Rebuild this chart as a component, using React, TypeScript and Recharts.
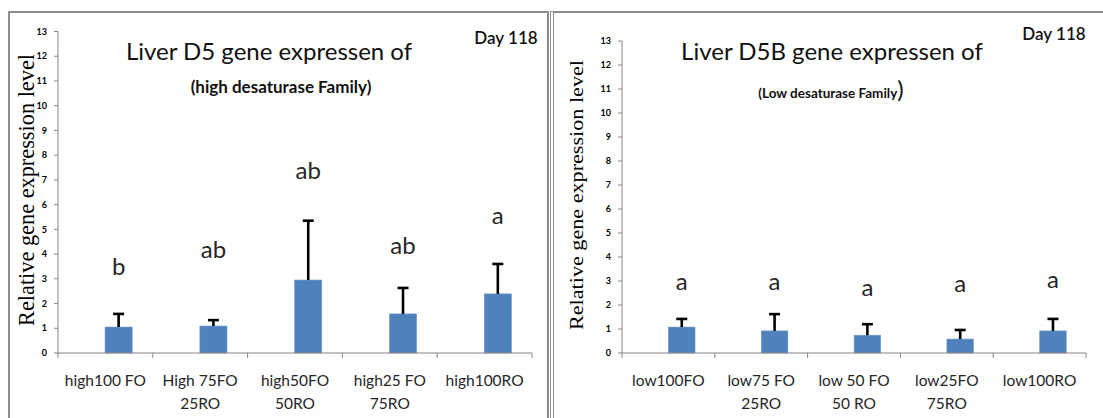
import React from "react";
import { ComposedChart, Bar, XAxis, YAxis } from "recharts";

// high desaturase family (left panel)
const highCategories = ["high100 FO", "High 75FO\n25RO", "high50FO\n50RO", "high25 FO\n75RO", "high100RO"];
const highMeans = [1.05, 1.09, 2.95, 1.58, 2.39];
const highErrors = [0.53, 0.24, 2.4, 1.05, 1.21];
const highLetters = ["b", "ab", "ab", "ab", "a"];
const highLetterY = [3.5, 4.2, 7.4, 4.37, 5.58];

// low desaturase family (right panel)
const lowCategories = ["low100FO", "low75 FO\n25RO", "low 50 FO\n50 RO", "low25FO\n75RO", "low100RO"];
const lowMeans = [1.08, 0.92, 0.74, 0.58, 0.92];
const lowErrors = [0.34, 0.7, 0.46, 0.38, 0.5];
const lowLetters = ["a", "a", "a", "a", "a"];
const lowLetterY = [3.0, 3.0, 2.75, 2.9, 3.08];

const yTicks = [0, 1, 2, 3, 4, 5, 6, 7, 8, 9, 10, 11, 12, 13];

const BAR_COLOR = "#4F81BD";
const AXIS_COLOR = "#868686";
const SANS = "Lato, 'Noto Sans', sans-serif";

function buildRows(cats: string[], means: number[], errs: number[], letters: string[], letterY: number[]) {
  return cats.map((name, i) => ({
    name,
    blank: null,
    mean: means[i],
    err: errs[i],
    letter: letters[i],
    letterY: letterY[i],
  }));
}

// bar + upper error bar + significance letter, using the bar's own pixel scale
function BarWithError(props: any) {
  const { x, y, width, height, payload } = props;
  if (!payload || !payload.mean) return null;
  const perUnit = height / payload.mean;
  const cx = x + width / 2;
  const top = y - payload.err * perUnit;
  const ly = y + height - payload.letterY * perUnit;
  return (
    <g>
      <rect x={x} y={y} width={width} height={height} fill={BAR_COLOR} stroke="#6a95c9" strokeWidth={0.6} />
      <line x1={cx} x2={cx} y1={y} y2={top} stroke="#000" strokeWidth={2.6} />
      <line x1={cx - 5.5} x2={cx + 5.5} y1={top} y2={top} stroke="#000" strokeWidth={2.6} />
      <text x={cx} y={ly} dy="0.36em" textAnchor="middle" fontFamily={SANS} fontSize={24} fill="#262626">
        {payload.letter}
      </text>
    </g>
  );
}

function XTick(props: any) {
  const { x, y, payload, index, band, count } = props;
  const lines = String(payload.value).split("\n");
  return (
    <g>
      <line x1={x - band / 2} x2={x - band / 2} y1={y} y2={y + 5} stroke={AXIS_COLOR} />
      {index === count - 1 && <line x1={x + band / 2} x2={x + band / 2} y1={y} y2={y + 5} stroke={AXIS_COLOR} />}
      <text x={x} y={y + 33} textAnchor="middle" fontFamily={SANS} fontSize={15.5} fill="#262626">
        {lines.map((l, i) => (
          <tspan key={i} x={x} dy={i === 0 ? 0 : 23}>
            {l}
          </tspan>
        ))}
      </text>
    </g>
  );
}

function YLabel(props: any) {
  const { lx, ly, size, len } = props;
  return (
    <text
      transform={`translate(${lx}, ${ly}) rotate(-90)`}
      textAnchor="middle"
      fontFamily="'Liberation Serif', 'DejaVu Serif', serif"
      fontSize={size}
      textLength={len}
      lengthAdjust="spacingAndGlyphs"
      fill="#000"
    >
      Relative gene expression level
    </text>
  );
}

function Panel(props: any) {
  const { rows, width, height, top, right, axisW, labelX, labelY, labelSize, labelLen } = props;
  const plotW = width - axisW - right;
  const band = plotW / rows.length;
  return (
    <ComposedChart
      width={width}
      height={height}
      data={rows}
      margin={{ top, right, bottom: 0, left: 0 }}
      barSize={band / 3.5}
      barGap={0}
    >
      <XAxis
        dataKey="name"
        height={height - 353}
        interval={0}
        tickLine={false}
        tickSize={0}
        tickMargin={0}
        axisLine={{ stroke: AXIS_COLOR }}
        tick={(p: any) => <XTick {...p} band={band} count={rows.length} />}
      />
      <YAxis
        width={axisW}
        domain={[0, 13]}
        ticks={yTicks}
        interval={0}
        tickSize={4}
        tickMargin={7}
        axisLine={{ stroke: AXIS_COLOR }}
        tickLine={{ stroke: AXIS_COLOR }}
        tick={{ fontFamily: SANS, fontSize: 9, fontWeight: 700, fill: "#000" }}
        label={<YLabel lx={labelX} ly={labelY} size={labelSize} len={labelLen} />}
      />
      <Bar dataKey="blank" fill="none" isAnimationActive={false} />
      <Bar dataKey="mean" fill={BAR_COLOR} shape={<BarWithError />} isAnimationActive={false} />
    </ComposedChart>
  );
}

const abs = (left: number, top: number, extra: any = {}) => ({
  position: "absolute" as const,
  left,
  top,
  whiteSpace: "nowrap" as const,
  transform: "translate(-50%, -50%)",
  color: "#111",
  fontFamily: SANS,
  ...extra,
});

export default function App() {
  const highRows = buildRows(highCategories, highMeans, highErrors, highLetters, highLetterY);
  const lowRows = buildRows(lowCategories, lowMeans, lowErrors, lowLetters, lowLetterY);
  return (
    <div style={{ position: "absolute", left: 0, top: 0, width: 1103, height: 418, background: "#fff", overflow: "hidden" }}>
      {/* panel frames */}
      <div style={{ position: "absolute", left: 8, top: 11, width: 537, height: 420, border: "2px solid #8c8c8c" }} />
      <div style={{ position: "absolute", left: 550, top: 11, width: 600, height: 420, borderLeft: "4px double #8c8c8c", borderTop: "2px solid #8c8c8c" }} />

      <div style={{ position: "absolute", left: 0, top: 0 }}>
        <Panel rows={highRows} width={548} height={418} top={31.5} right={16} axisW={58}
          labelX={34} labelY={190} labelSize={24} labelLen={272} />
      </div>
      <div style={{ position: "absolute", left: 551, top: 0 }}>
        <Panel rows={lowRows} width={552} height={418} top={41} right={17} axisW={71}
          labelX={32} labelY={195} labelSize={18} labelLen={270} />
      </div>

      {/* titles */}
      <div style={abs(269, 50, { fontSize: 24 })}>Liver D5 gene expressen of</div>
      <div style={abs(281, 86, { fontSize: 17, fontWeight: 700 })}>(high desaturase Family)</div>
      <div style={abs(506, 37, { fontSize: 17, fontWeight: 600 })}>Day 118</div>

      <div style={abs(832, 50, { fontSize: 24 })}>Liver D5B gene expressen of</div>
      <div style={abs(831, 88, { fontSize: 13.5, fontWeight: 700 })}>
        (Low desaturase Family<span style={{ fontSize: 24, fontWeight: 400 }}>)</span>
      </div>
      <div style={abs(1054, 33, { fontSize: 17, fontWeight: 600 })}>Day 118</div>
    </div>
  );
}
